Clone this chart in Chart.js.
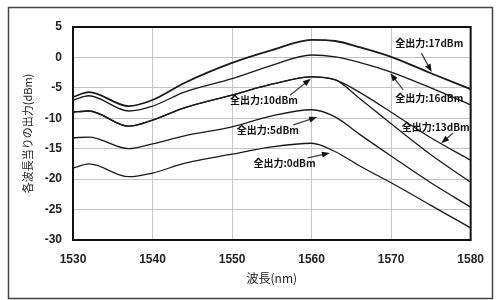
<!DOCTYPE html>
<html>
<head>
<meta charset="utf-8">
<script src="https://cdn.jsdelivr.net/npm/chart.js@4.4.1/dist/chart.umd.min.js"></script>
<style>
  html, body { margin: 0; padding: 0; background: #fff; }
  #wrap { width: 496px; height: 300px; }
</style>
</head>
<body>
<div id="wrap"><canvas id="specChart" width="496" height="300"></canvas></div>
<script>
// wavelength grid (nm) and per-channel output (dBm)
const wavelengths = [1530, 1532, 1537, 1540, 1544, 1550, 1555, 1560, 1563, 1566, 1570, 1575, 1580];
const out17 = [-6.5, -5.7, -8.0, -7.0, -4.2, -0.9, 1.2, 2.9, 2.7, 1.7, 0.1, -2.6, -5.2];
const out16 = [-7.0, -6.3, -8.8, -8.0, -5.7, -3.5, -1.3, 0.4, 0.1, -0.8, -2.4, -5.0, -7.8];
const out13 = [-9.0, -8.8, -11.3, -10.3, -8.3, -6.2, -4.4, -3.2, -3.7, -5.7, -9.0, -13.2, -16.9];
const out10 = [-9.0, -8.8, -11.3, -10.3, -8.3, -6.2, -4.4, -3.2, -3.7, -6.7, -10.9, -16.0, -20.5];
const out5  = [-13.2, -13.1, -15.0, -14.2, -12.9, -11.4, -9.6, -8.6, -9.8, -12.6, -16.2, -20.6, -24.6];
const out0  = [-18.2, -17.5, -19.6, -19.0, -17.4, -15.9, -14.7, -14.1, -15.5, -17.8, -20.6, -24.3, -28.0];

const xTicks = [1530, 1540, 1550, 1560, 1570, 1580];
const yTicks = [5, 0, -5, -10, -15, -20, -25, -30];

// callout labels: text, text centre, arrow tail, arrow tip (nm, dBm)
const labelText = ['全出力:17dBm', '全出力:16dBm', '全出力:13dBm', '全出力:10dBm', '全出力:5dBm', '全出力:0dBm'];
const labelPos  = [[1574.8, 2.4], [1574.8, -6.7], [1575.6, -11.4], [1554.0, -7.0], [1554.5, -11.9], [1556.6, -17.4]];
const arrowFrom = [[1573.8, 0.7], [1571.5, -5.3], [1577.8, -12.4], [1557.3, -6.2], [1557.7, -11.1], [1559.5, -16.5]];
const arrowTo   = [[1575.1, -2.4], [1569.9, -2.6], [1576.3, -14.1], [1559.9, -3.5], [1560.7, -9.8], [1562.3, -15.7]];

const seriesList = [out17, out16, out13, out10, out5, out0];

function toPoints(vals) {
    return vals.map((v, i) => ({ x: wavelengths[i], y: v }));
}

const datasets = seriesList.map((vals, i) => ({
    label: labelText[i],
    data: toPoints(vals),
    borderColor: '#1a1a1a',
    borderWidth: i === 0 ? 1.8 : 1.3,
    pointRadius: 0,
    fill: false,
    cubicInterpolationMode: 'monotone'
}));

const decor = {
    id: 'decor',
    beforeDraw(chart) {
        const ctx = chart.ctx;
        ctx.save();
        ctx.fillStyle = '#fff';
        ctx.fillRect(0, 0, chart.width, chart.height);
        ctx.restore();
    },
    afterDraw(chart) {
        const { ctx, chartArea: a, scales: { x, y } } = chart;
        ctx.save();
        // plot box
        ctx.strokeStyle = '#111';
        ctx.lineWidth = 2;
        ctx.strokeRect(a.left, a.top, a.right - a.left, a.bottom - a.top);
        // outer frame
        ctx.strokeStyle = '#444';
        ctx.lineWidth = 1.5;
        ctx.strokeRect(8.5, 7.5, 484, 291);

        ctx.font = 'bold 10px "Noto Sans CJK JP", sans-serif';
        ctx.textAlign = 'center';
        ctx.textBaseline = 'middle';
        ctx.fillStyle = '#111';
        labelText.forEach((t, i) => {
            ctx.fillText(t, x.getPixelForValue(labelPos[i][0]), y.getPixelForValue(labelPos[i][1]));
            const x0 = x.getPixelForValue(arrowFrom[i][0]), y0 = y.getPixelForValue(arrowFrom[i][1]);
            const x1 = x.getPixelForValue(arrowTo[i][0]), y1 = y.getPixelForValue(arrowTo[i][1]);
            const ang = Math.atan2(y1 - y0, x1 - x0);
            ctx.lineWidth = 1.3;
            ctx.beginPath();
            ctx.moveTo(x0, y0);
            ctx.lineTo(x1 - 5 * Math.cos(ang), y1 - 5 * Math.sin(ang));
            ctx.stroke();
            ctx.beginPath();
            ctx.moveTo(x1, y1);
            ctx.lineTo(x1 - 8 * Math.cos(ang) + 3 * Math.sin(ang), y1 - 8 * Math.sin(ang) - 3 * Math.cos(ang));
            ctx.lineTo(x1 - 8 * Math.cos(ang) - 3 * Math.sin(ang), y1 - 8 * Math.sin(ang) + 3 * Math.cos(ang));
            ctx.closePath();
            ctx.fill();
        });
        ctx.restore();
    }
};

const tickFont = { family: '"Liberation Sans", Arial, sans-serif', size: 12, weight: 'bold' };

new Chart(document.getElementById('specChart').getContext('2d'), {
    type: 'line',
    data: { datasets: datasets },
    options: {
        responsive: false,
        animation: false,
        devicePixelRatio: 1,
        layout: { padding: { left: 8, top: 27, right: 13, bottom: 0 } },
        plugins: { legend: { display: false }, tooltip: { enabled: false } },
        scales: {
            x: {
                type: 'linear',
                min: 1530,
                max: 1580,
                afterBuildTicks: s => { s.ticks = xTicks.map(v => ({ value: v })); },
                afterFit: s => { s.height = 60; },
                grid: { color: '#c4c4c4', lineWidth: 1, drawTicks: false },
                border: { display: false },
                ticks: { color: '#222', font: tickFont, padding: 12, maxRotation: 0, callback: v => String(v) },
                title: {
                    display: true,
                    text: '波長(nm)',
                    color: '#222',
                    font: { family: '"Noto Sans CJK JP", sans-serif', size: 12 },
                    padding: { top: 0, bottom: 14 }
                }
            },
            y: {
                type: 'linear',
                min: -30,
                max: 5,
                afterBuildTicks: s => { s.ticks = yTicks.map(v => ({ value: v })); },
                afterFit: s => { s.width = 65; },
                grid: { color: '#c4c4c4', lineWidth: 1, drawTicks: false },
                border: { display: false },
                ticks: { color: '#222', font: tickFont, padding: 11, callback: v => String(v) },
                title: {
                    display: true,
                    text: '各波長当りの出力(dBm)',
                    color: '#222',
                    font: { family: '"Noto Sans CJK JP", sans-serif', size: 11 },
                    padding: { top: 13, bottom: 0 }
                }
            }
        }
    },
    plugins: [decor]
});
</script>
</body>
</html>
